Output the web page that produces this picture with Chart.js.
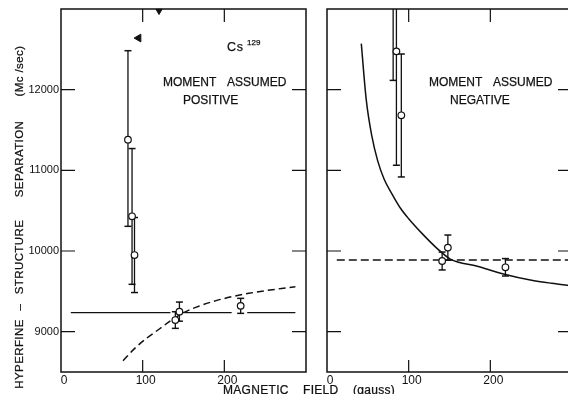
<!DOCTYPE html>
<html>
<head>
<meta charset="utf-8">
<script src="https://cdn.jsdelivr.net/npm/chart.js@4.4.1/dist/chart.umd.min.js"></script>
<style>
  html, body { margin: 0; padding: 0; background: #fff; overflow: hidden; width: 568px; height: 394px; }
  #wrap { position: relative; width: 568px; height: 394px; overflow: hidden; }
  canvas { position: absolute; top: 0; }
  #cPos { left: 0; }
  #cNeg { left: 312px; }
  .t { position: absolute; font-family: "Liberation Sans", Arial, sans-serif; color: #111; white-space: pre; line-height: 1; -webkit-text-stroke: 0.25px #111; }
  .ann { font-size: 12px; }
  .ytl { font-size: 11.5px; letter-spacing: 0.4px; transform: translate(-50%, -50%) rotate(-90deg); }
  .xtl { font-size: 12px; letter-spacing: 0.3px; }
</style>
</head>
<body>
<div id="wrap">
  <canvas id="cPos" width="312" height="394"></canvas>
  <canvas id="cNeg" width="262" height="394"></canvas>

  <!-- vertical axis title -->
  <div class="t ytl" style="left:20px; top:354px;">HYPERFINE</div>
  <div class="t ytl" style="left:20px; top:307px;">–</div>
  <div class="t ytl" style="left:20px; top:257px;">STRUCTURE</div>
  <div class="t ytl" style="left:20px; top:159px;">SEPARATION</div>
  <div class="t ytl" style="left:20px; top:71px;">(Mc /sec)</div>

  <!-- horizontal axis title -->
  <div class="t xtl" style="left:223px; top:383.5px;">MAGNETIC</div>
  <div class="t xtl" style="left:303px; top:383.5px;">FIELD</div>
  <div class="t xtl" style="left:353px; top:383.5px;">(gauss)</div>

  <!-- panel annotations -->
  <div class="t" style="left:227px; top:41px; font-size:12.5px; letter-spacing:0.8px;">Cs</div>
  <div class="t" style="left:247px; top:38.5px; font-size:8px;">129</div>
  <div class="t ann" style="left:163px; top:76px;">MOMENT</div>
  <div class="t ann" style="left:227px; top:76px;">ASSUMED</div>
  <div class="t ann" style="left:183px; top:94px;">POSITIVE</div>
  <div class="t ann" style="left:429px; top:76px;">MOMENT</div>
  <div class="t ann" style="left:493px; top:76px;">ASSUMED</div>
  <div class="t ann" style="left:450px; top:94px;">NEGATIVE</div>
</div>

<script>
// Axis ticks shared by both panels
const xTicks = [0, 100, 200];
const yTicks = [9000, 10000, 11000, 12000];

// Moment assumed positive: measured separations with error limits
const posField = [82, 87, 90, 140, 145, 220];
const posValue = [11380, 10430, 9950, 9144, 9248, 9320];
const posLow   = [10306, 9587, 9485, 9041, 9130, 9227];
const posHigh  = [12483, 11270, 10415, 9247, 9367, 9413];

// Off-scale indicators (pointing direction in degrees)
const posArrowField = [95, 120];
const posArrowValue = [12640, 12975];
const posArrowTurn  = [-90, 180];

// Mean value line (broken around the data points)
const posMeanField = [12, 134, null, 151, 209, null, 228, 287];
const posMeanValue = [9235, 9235, null, 9235, 9235, null, 9235, 9235];

// Dashed curve
const posCurveField = [76, 90, 105, 120, 135, 150, 170, 190, 210, 230, 250, 270, 287];
const posCurveValue = [8640, 8790, 8920, 9030, 9140, 9235, 9320, 9385, 9435, 9475, 9508, 9535, 9558];

// Moment assumed negative
const negField = [81, 85, 91, 141, 148, 218.5];
const negValue = [13200, 12475, 11682, 9876, 10042, 9798];
const negLow   = [12115, 11063, 10918, 9765, 9886, 9690];
const negHigh  = [14290, 13887, 12442, 9987, 10198, 9906];

// Dashed mean line
const negMeanField = [12, 300];
const negMeanValue = [9889, 9889];

// Solid curve
const negCurveField = [42, 48, 55, 62, 70, 80, 90, 100, 118, 135, 151, 184, 216, 249, 275, 300];
const negCurveValue = [12570, 11880, 11420, 11120, 10890, 10700, 10530, 10400, 10200, 10030, 9900, 9810, 9715, 9640, 9600, 9570];

const INK = '#111';
Chart.defaults.font.family = '"Liberation Sans", Arial, sans-serif';
Chart.defaults.color = INK;

function pairs(xs, ys) {
  return xs.map((xv, i) => ({ x: xv, y: ys[i] }));
}

function errorBars(xs, lo, hi) {
  const pts = [];
  xs.forEach((xv, i) => {
    pts.push({ x: xv, y: lo[i] }, { x: xv, y: hi[i] }, { x: xv, y: null });
  });
  return pts;
}

function pointSet(xs, ys) {
  return {
    data: pairs(xs, ys),
    pointStyle: 'circle',
    pointRadius: 3.3,
    pointBackgroundColor: '#ffffff',
    pointBorderColor: INK,
    pointBorderWidth: 1.2,
    showLine: false
  };
}

function barSet(xs, lo, hi) {
  return {
    data: errorBars(xs, lo, hi),
    showLine: true,
    spanGaps: false,
    borderColor: INK,
    borderWidth: 1.3,
    pointStyle: 'line',
    pointRadius: 3.5,
    pointBorderColor: INK,
    pointBorderWidth: 1.5,
    clip: 0
  };
}

function lineSet(xs, ys, dash, width) {
  return {
    data: pairs(xs, ys),
    showLine: true,
    spanGaps: false,
    borderColor: INK,
    borderWidth: width,
    borderDash: dash,
    pointRadius: 0,
    cubicInterpolationMode: 'monotone',
    clip: 0
  };
}

// Plot frame with inward tick marks on every side
const frameTicks = {
  id: 'frameTicks',
  afterDraw(chart) {
    const { ctx, chartArea: a, scales: { x, y } } = chart;
    ctx.save();
    ctx.strokeStyle = INK;
    ctx.lineWidth = 1.5;
    ctx.strokeRect(a.left, a.top, a.right - a.left, a.bottom - a.top);
    ctx.lineWidth = 1.2;
    ctx.beginPath();
    yTicks.forEach(v => {
      const p = y.getPixelForValue(v);
      ctx.moveTo(a.left, p); ctx.lineTo(a.left + 14, p);
      ctx.moveTo(a.right, p); ctx.lineTo(a.right - 14, p);
    });
    xTicks.filter(v => v > x.min).forEach(v => {
      const p = x.getPixelForValue(v);
      ctx.moveTo(p, a.top); ctx.lineTo(p, a.top + 13);
      ctx.moveTo(p, a.bottom); ctx.lineTo(p, a.bottom - 12);
    });
    ctx.stroke();
    ctx.restore();
  }
};

function panel(canvas, datasets, showYLabels, yAxisWidth, padRight) {
  return new Chart(canvas, {
    type: 'scatter',
    data: { datasets },
    options: {
      responsive: false,
      animation: false,
      events: [],
      layout: { autoPadding: false, padding: { top: 9, right: padRight, left: 0, bottom: 0 } },
      plugins: { legend: { display: false }, tooltip: { enabled: false } },
      scales: {
        x: {
          type: 'linear', min: 0, max: 300,
          grid: { display: false, drawTicks: false },
          border: { display: false },
          afterBuildTicks: s => { s.ticks = xTicks.map(v => ({ value: v })); },
          afterFit: s => { s.height = 22; s.paddingLeft = 0; s.paddingRight = 0; },
          ticks: { color: INK, font: { size: 12 }, padding: 1, labelOffset: 3, maxRotation: 0, autoSkip: false, callback: v => String(v) }
        },
        y: {
          type: 'linear', min: 8500, max: 13000,
          grid: { display: false, drawTicks: false },
          border: { display: false },
          afterBuildTicks: s => { s.ticks = yTicks.map(v => ({ value: v })); },
          afterFit: s => { s.width = yAxisWidth; s.paddingTop = 0; s.paddingBottom = 0; },
          ticks: { display: showYLabels, color: INK, font: { size: 11 }, padding: 2, callback: v => String(v) }
        }
      }
    },
    plugins: [frameTicks]
  });
}

// Left panel: moment assumed positive
panel(document.getElementById('cPos'), [
  pointSet(posField, posValue),
  {
    data: pairs(posArrowField, posArrowValue),
    pointStyle: 'triangle',
    pointRotation: posArrowTurn,
    pointRadius: [4.5, 3.5],
    pointBackgroundColor: INK,
    pointBorderColor: INK,
    pointBorderWidth: 1,
    showLine: false,
    clip: false
  },
  barSet(posField, posLow, posHigh),
  lineSet(posMeanField, posMeanValue, [], 1.3),
  lineSet(posCurveField, posCurveValue, [7, 4], 1.5)
], true, 61, 6);

// Right panel: moment assumed negative
panel(document.getElementById('cNeg'), [
  pointSet(negField, negValue),
  barSet(negField, negLow, negHigh),
  lineSet(negMeanField, negMeanValue, [8, 4], 1.5),
  lineSet(negCurveField, negCurveValue, [], 1.5)
], false, 15, 2);
</script>
</body>
</html>
